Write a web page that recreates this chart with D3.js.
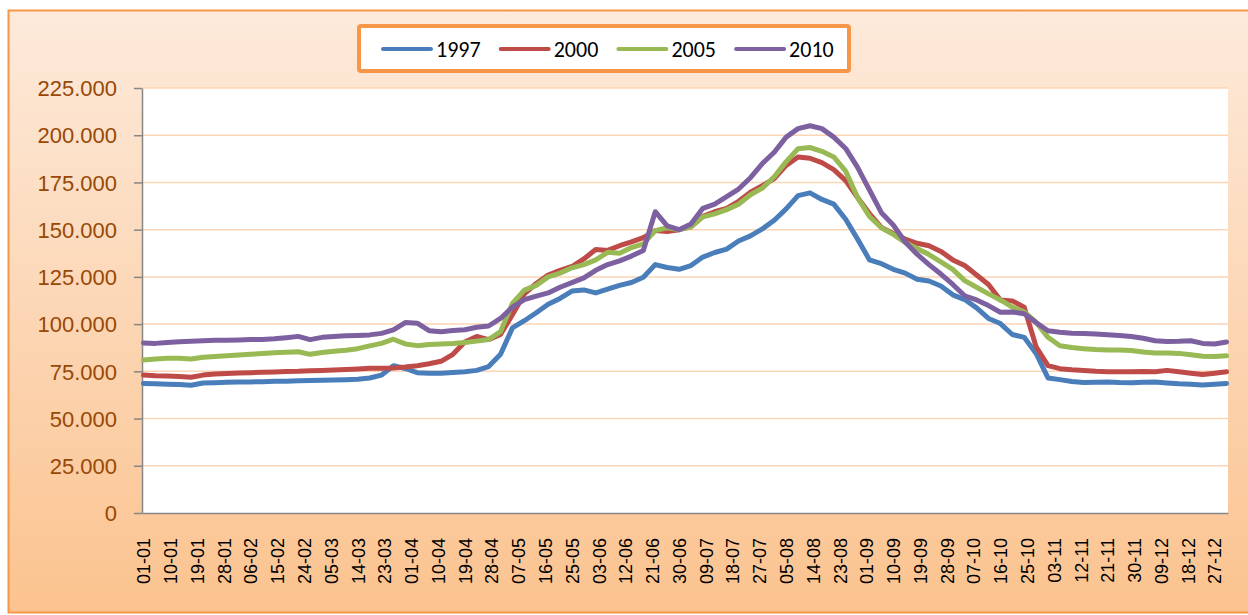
<!DOCTYPE html>
<html>
<head>
<meta charset="utf-8">
<script src="https://cdn.jsdelivr.net/npm/d3@7"></script>
<style>
  body { margin: 0; background: #fff; }
  svg { display: block; font-family: Carlito, Lato, "Open Sans", sans-serif; }
</style>
</head>
<body>
<svg id="chart"></svg>
<script>
// sampled every 4 days (0 = 1 Jan), values in thousands
const sampleDays = d3.range(0, 365, 4);

const tickLabels = ["01-01","10-01","19-01","28-01","06-02","15-02","24-02","05-03","14-03","23-03",
  "01-04","10-04","19-04","28-04","07-05","16-05","25-05","03-06","12-06","21-06","30-06","09-07",
  "18-07","27-07","05-08","14-08","23-08","01-09","10-09","19-09","28-09","07-10","16-10","25-10",
  "03-11","12-11","21-11","30-11","09-12","18-12","27-12"];

const years = ["1997", "2000", "2005", "2010"];

const y1997 = [68.6,68.4,68.2,68.0,67.6,68.8,69.0,69.2,69.3,69.4,69.5,69.7,69.8,70.0,70.1,70.3,70.4,70.6,70.8,71.5,
  73.0,78.0,76.5,74.3,74.0,74.0,74.4,74.8,75.5,77.5,84.0,98.0,101.8,106.0,110.5,113.6,117.5,118.1,116.5,118.5,
  120.5,122.0,124.8,131.5,130.0,129.0,131.0,135.5,137.9,139.7,144.0,146.7,150.4,155.0,161.0,168.0,169.5,166.0,163.5,155.5,
  145.0,134.0,132.0,129.0,127.0,123.8,122.8,120.2,115.5,113.0,108.6,103.0,100.3,94.5,93.0,84.5,71.5,70.6,69.6,69.1,
  69.2,69.4,69.1,69.0,69.2,69.3,68.8,68.4,68.2,67.8,68.2,68.6];

const y2000 = [73.0,72.6,72.5,72.3,71.9,73.0,73.6,73.9,74.1,74.3,74.5,74.7,74.9,75.0,75.3,75.5,75.7,76.0,76.3,76.6,
  76.6,76.8,77.3,78.0,79.0,80.3,84.0,90.5,93.5,91.8,94.5,105.0,116.0,121.5,126.0,128.5,130.5,134.5,139.5,139.0,
  141.5,143.5,145.8,149.5,149.0,150.0,151.5,157.0,159.5,161.3,165.0,169.8,173.3,177.0,184.0,188.5,187.8,185.5,181.8,176.0,
  167.0,158.5,151.2,148.0,145.0,142.8,141.5,138.5,134.0,131.0,126.0,121.0,112.8,112.3,109.0,88.0,78.0,76.4,75.8,75.5,
  75.0,74.8,74.8,74.8,74.9,74.8,75.5,74.8,74.0,73.3,74.0,74.8];

const y2005 = [81.0,81.5,81.9,81.9,81.5,82.5,82.8,83.2,83.6,84.0,84.4,84.8,85.1,85.4,84.0,85.0,85.6,86.2,87.0,88.5,
  89.8,92.0,89.5,88.6,89.2,89.5,89.7,90.3,91.0,91.8,96.0,111.0,118.0,120.5,125.0,127.0,129.8,131.5,134.0,138.0,
  137.5,140.5,142.5,149.5,151.0,150.0,151.5,156.8,158.4,160.6,163.5,168.5,172.0,178.0,186.0,192.8,193.5,191.5,188.5,181.0,
  167.0,157.0,151.0,147.5,143.2,140.0,136.8,133.0,129.0,123.0,119.5,116.0,112.8,109.0,106.5,101.0,93.0,88.5,87.6,87.0,
  86.5,86.3,86.3,86.0,85.2,84.7,84.7,84.5,83.8,83.0,82.8,83.2];

const y2010 = [90.0,89.8,90.3,90.7,90.9,91.2,91.4,91.5,91.6,91.8,91.9,92.2,92.8,93.5,91.8,93.0,93.5,93.8,94.0,94.3,
  95.1,96.9,100.8,100.5,96.5,96.0,96.6,97.0,98.3,99.0,103.0,109.0,113.0,114.8,116.5,119.5,122.0,124.5,128.5,131.5,
  133.5,136.0,139.0,159.5,152.0,150.0,153.0,161.3,163.5,167.5,171.5,177.5,185.0,191.0,199.0,203.5,205.0,203.5,199.0,193.0,
  183.0,171.0,159.0,152.5,143.5,137.0,131.5,126.5,121.0,115.0,112.8,109.8,106.3,106.4,105.5,100.8,96.5,95.7,95.2,95.0,
  94.7,94.4,94.0,93.4,92.5,91.2,90.8,90.9,91.2,89.8,89.5,90.5];

const yTicks = [0, 25, 50, 75, 100, 125, 150, 175, 200, 225];
const colors = ["#4a7ebb", "#be4b48", "#98b954", "#7d60a0"];

document.addEventListener("DOMContentLoaded", () => {
  const width = 1248, height = 615;
  const plot = { left: 142, right: 1228, top: 88, bottom: 513 };

  const svg = d3.select("#chart").attr("width", width).attr("height", height);

  // background gradient of the chart area
  const grad = svg.append("defs").append("linearGradient")
    .attr("id", "bg").attr("x1", 0).attr("y1", 0).attr("x2", 0).attr("y2", 1);
  grad.append("stop").attr("offset", "0%").attr("stop-color", "#fdeadb");
  grad.append("stop").attr("offset", "100%").attr("stop-color", "#fbc38f");

  // chart box runs past the right edge of the picture
  svg.append("rect")
    .attr("x", 8.5).attr("y", 10.5).attr("width", 1260).attr("height", 602)
    .attr("fill", "url(#bg)").attr("stroke", "#f79646").attr("stroke-width", 2);

  svg.append("rect")
    .attr("x", plot.left).attr("y", plot.top)
    .attr("width", plot.right - plot.left).attr("height", plot.bottom - plot.top)
    .attr("fill", "#fff");

  const x = d3.scaleLinear().domain([-0.5, 364.5]).range([plot.left, plot.right]);
  const y = d3.scaleLinear().domain([0, 225]).range([plot.bottom, plot.top]);

  const locale = d3.formatLocale({ decimal: ",", thousands: ".", grouping: [3], currency: ["", ""] });
  const fmt = locale.format(",d");

  // gridlines
  svg.append("g").selectAll("line")
    .data(yTicks.filter(d => d > 0))
    .join("line")
    .attr("x1", plot.left).attr("x2", plot.right)
    .attr("y1", d => y(d)).attr("y2", d => y(d))
    .attr("stroke", "#fcd5b5").attr("stroke-width", 1.5);

  // y axis
  const yAxis = svg.append("g")
    .attr("transform", `translate(${plot.left},0)`)
    .call(d3.axisLeft(y).tickValues(yTicks).tickSize(8).tickSizeOuter(0).tickPadding(17)
      .tickFormat(d => fmt(d * 1000)));
  yAxis.select(".domain").attr("stroke", "#868686").attr("stroke-width", 1.5);
  yAxis.selectAll(".tick line").attr("stroke", "#868686").attr("stroke-width", 1.5);
  yAxis.selectAll(".tick text")
    .attr("fill", "#984807").style("font-size", "22px").attr("dy", "0.35em");

  // x axis
  const xAxis = svg.append("g")
    .attr("transform", `translate(0,${plot.bottom})`)
    .call(d3.axisBottom(x).tickValues(tickLabels.map((_, i) => i * 9)).tickSize(0).tickSizeOuter(0)
      .tickFormat((d, i) => tickLabels[i]));
  xAxis.select(".domain").attr("stroke", "#868686").attr("stroke-width", 1.5);
  xAxis.selectAll(".tick text")
    .attr("fill", "#000").style("font-size", "18px")
    .attr("text-anchor", "end")
    .attr("transform", "rotate(-90)")
    .attr("x", -25).attr("y", 0).attr("dy", "0.35em");

  // series
  const series = [y1997, y2000, y2005, y2010];
  const line = d3.line()
    .x((d, i) => x(sampleDays[i]))
    .y(d => y(d));

  svg.append("g").selectAll("path")
    .data(series)
    .join("path")
    .attr("d", line)
    .attr("fill", "none")
    .attr("stroke", (d, i) => colors[i])
    .attr("stroke-width", 5)
    .attr("stroke-linejoin", "round")
    .attr("stroke-linecap", "round");

  // legend
  const legend = svg.append("g");
  legend.append("rect")
    .attr("x", 359).attr("y", 26).attr("width", 490).attr("height", 45)
    .attr("rx", 2).attr("fill", "#fff").attr("stroke", "#f79646").attr("stroke-width", 4);

  const item = legend.selectAll("g.item")
    .data(years)
    .join("g").attr("class", "item")
    .attr("transform", (d, i) => `translate(${383 + i * 117.7},49)`);
  item.append("line")
    .attr("x1", 0).attr("x2", 48)
    .attr("stroke", (d, i) => colors[i]).attr("stroke-width", 4).attr("stroke-linecap", "round");
  item.append("text")
    .attr("x", 53).attr("dy", "0.35em")
    .style("font-size", "22px").attr("fill", "#000")
    .text(d => d);
});
</script>
</body>
</html>
